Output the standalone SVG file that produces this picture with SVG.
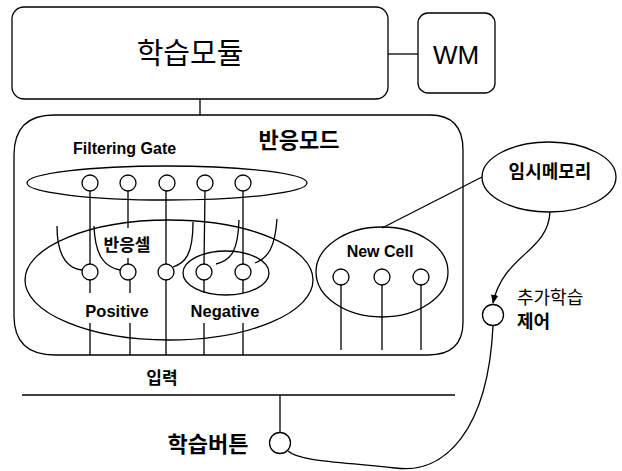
<svg xmlns="http://www.w3.org/2000/svg" width="622" height="471" viewBox="0 0 622 471">
<defs>
<style>
.s{fill:none;stroke:#000;stroke-width:1.3}
.w{fill:#fff;stroke:#000;stroke-width:1.3}
.k{font-family:"Noto Sans CJK KR","Liberation Sans",sans-serif;fill:#000}
.e{font-family:"Liberation Sans",Arial,sans-serif;fill:#000;font-weight:bold}
</style>
<marker id="ah" viewBox="0 0 10 10" refX="9" refY="5" markerWidth="7" markerHeight="7" orient="auto">
<path d="M0,1 L10,5 L0,9 Z" fill="#000"/>
</marker>
</defs>
<rect width="622" height="471" fill="#fff"/>

<g id="connectors">
<line class="s" x1="388" y1="54" x2="418" y2="54"/>
<line class="s" x1="200" y1="99" x2="200" y2="115"/>
<line class="s" x1="90" y1="191" x2="90" y2="264"/>
<line class="s" x1="128" y1="191" x2="128" y2="228"/>
<line class="s" x1="128" y1="258" x2="128" y2="264"/>
<line class="s" x1="166" y1="191" x2="166" y2="264"/>
<line class="s" x1="205" y1="191" x2="204" y2="264"/>
<line class="s" x1="243" y1="191" x2="243" y2="264"/>
<path class="s" d="M57,226 C57,255 66,268 82,270"/>
<path class="s" d="M94,226 C95,255 104,267 120,270"/>
<path class="s" d="M193,222 C193,255 185,263 173,267"/>
<path class="s" d="M239,220 C238,250 232,260 216,264"/>
<path class="s" d="M277,219 C275,248 268,258 255,263"/>
<line class="s" x1="90" y1="280" x2="90" y2="293"/>
<line class="s" x1="90" y1="323" x2="90" y2="355"/>
<line class="s" x1="130" y1="280" x2="130" y2="293"/>
<line class="s" x1="130" y1="323" x2="130" y2="355"/>
<line class="s" x1="166" y1="280" x2="166" y2="355"/>
<line class="s" x1="204" y1="280" x2="204" y2="293"/>
<line class="s" x1="204" y1="323" x2="204" y2="355"/>
<line class="s" x1="243" y1="280" x2="243" y2="293"/>
<line class="s" x1="243" y1="323" x2="243" y2="355"/>
<line class="s" x1="341" y1="285" x2="341" y2="350"/>
<line class="s" x1="382" y1="285" x2="382" y2="350"/>
<line class="s" x1="421" y1="285" x2="421" y2="350"/>
<line class="s" x1="482" y1="177" x2="382" y2="228"/>
<path class="s" d="M550,212 C548,252 503,255 493,303" marker-end="url(#ah)"/>
<path class="s" d="M493,326 C488,430 445,475 395,468 C345,462 300,462 288,451"/>
<line class="s" x1="22" y1="395" x2="455" y2="395"/>
<line class="s" x1="280" y1="395" x2="280" y2="433"/>
</g>

<g id="learning-module">
<rect class="s" x="12" y="7" width="376" height="92" rx="12"/>
<text class="k" x="190" y="64" font-size="29" text-anchor="middle">학습모듈</text>
</g>

<g id="wm">
<rect class="s" x="418" y="13" width="77" height="80" rx="10"/>
<text x="456" y="64" font-size="26" text-anchor="middle" font-family="Liberation Sans, Arial, sans-serif">WM</text>
</g>

<g id="reaction-mode">
<path class="s" d="M54,115 H430 Q463,115 463,150 V322 Q463,355 428,355 H55 Q14,355 14,316 V155 Q14,115 54,115 Z"/>
<text class="k" x="299" y="148" font-size="22" font-weight="bold" text-anchor="middle">반응모드</text>
</g>

<g id="filtering-gate">
<ellipse class="s" cx="167" cy="183" rx="140" ry="17"/>
<text class="e" x="73" y="154" font-size="16">Filtering Gate</text>
<circle class="w" cx="90" cy="183" r="8"/>
<circle class="w" cx="128" cy="183" r="8"/>
<circle class="w" cx="167" cy="183" r="8"/>
<circle class="w" cx="205" cy="183" r="8"/>
<circle class="w" cx="243" cy="183" r="8"/>
</g>

<g id="reaction-cell">
<ellipse class="s" cx="169" cy="280" rx="144" ry="60"/>
<ellipse class="s" cx="226" cy="273" rx="43" ry="22"/>
<text class="k" x="127" y="251" font-size="17" font-weight="bold" text-anchor="middle">반응셀</text>
<circle class="w" cx="90" cy="272" r="8"/>
<circle class="w" cx="128" cy="272" r="8"/>
<circle class="w" cx="166" cy="272" r="8"/>
<circle class="w" cx="204" cy="272" r="8"/>
<circle class="w" cx="243" cy="272" r="8"/>
<text class="e" x="117" y="317" font-size="16.5" text-anchor="middle">Positive</text>
<text class="e" x="225" y="317" font-size="16.5" text-anchor="middle">Negative</text>
</g>

<g id="new-cell">
<ellipse class="s" cx="382" cy="272" rx="66" ry="45"/>
<text class="e" x="380" y="257" font-size="16" text-anchor="middle">New Cell</text>
<circle class="w" cx="341" cy="277" r="8"/>
<circle class="w" cx="382" cy="277" r="8"/>
<circle class="w" cx="421" cy="277" r="8"/>
</g>

<g id="temp-memory">
<ellipse class="w" cx="549" cy="177" rx="67" ry="35"/>
<text class="k" x="550" y="178" font-size="18" font-weight="bold" text-anchor="middle">임시메모리</text>
</g>

<g id="extra-learning-control">
<circle class="w" cx="493" cy="315" r="10.5"/>
<text class="k" x="517" y="304" font-size="18">추가학습</text>
<text class="k" x="517" y="328" font-size="18" font-weight="bold">제어</text>
</g>

<g id="input">
<text class="k" x="162" y="384" font-size="17" font-weight="bold" text-anchor="middle">입력</text>
</g>

<g id="learning-button">
<circle class="w" cx="280" cy="443" r="10.5"/>
<text class="k" x="208" y="452" font-size="22" font-weight="bold" text-anchor="middle">학습버튼</text>
</g>
</svg>
